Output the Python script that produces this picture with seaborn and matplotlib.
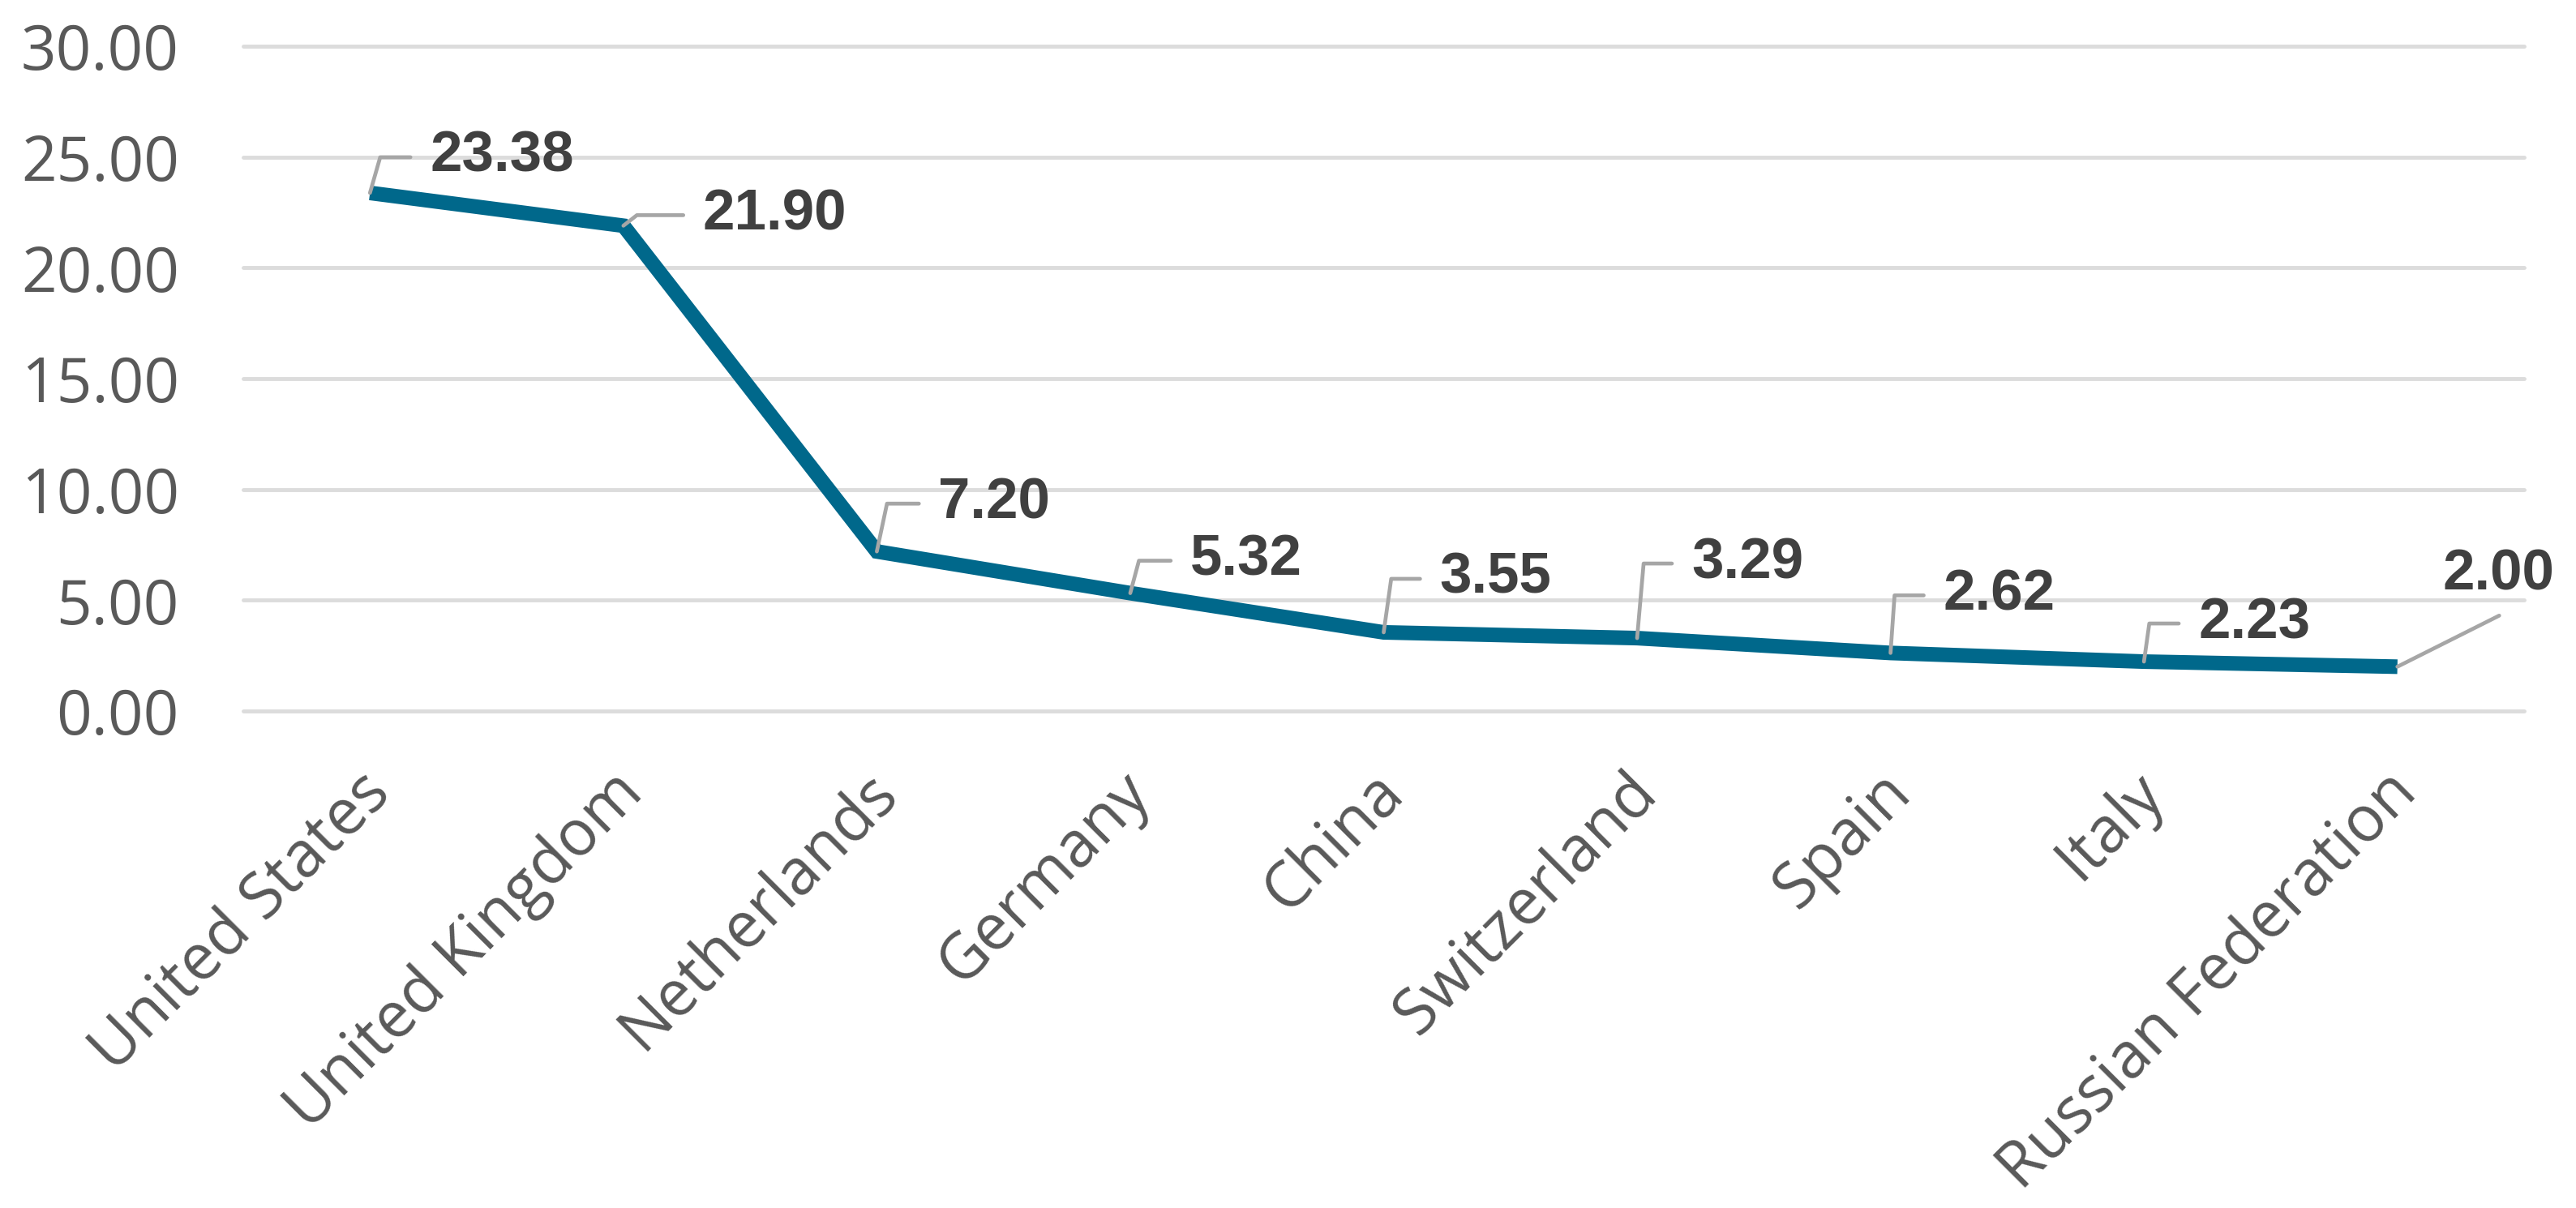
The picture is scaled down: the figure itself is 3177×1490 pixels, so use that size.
import matplotlib
matplotlib.use("Agg")
import matplotlib.pyplot as plt
import matplotlib.transforms as mtransforms
import seaborn as sns
import pandas as pd

countries = ["United States", "United Kingdom", "Netherlands", "Germany", "China",
             "Switzerland", "Spain", "Italy", "Russian Federation"]
values = [23.38, 21.90, 7.20, 5.32, 3.55, 3.29, 2.62, 2.23, 2.00]
y_ticks = [0, 5, 10, 15, 20, 25, 30]

# where each value label sits, in pixels from its point, and the leader angle
label_dx = [74, 98, 76, 74, 69, 67, 65, 67, 56]
label_dy = [44, 13, 59, 40, 66, 92, 71, 47, 113]
leader_angle = [74, 38, 78, 75, 82, 85, 86, 82, None]

LINE_COLOR = "#00688B"
TICK_COLOR = "#595959"
LABEL_COLOR = "#404040"
LEADER_COLOR = "#a6a6a6"

sns.set_theme(style="white")
plt.rcParams["font.family"] = ["Open Sans", "DejaVu Sans"]

df = pd.DataFrame({"country": countries, "value": values})

fig = plt.figure(figsize=(31.77, 14.90), dpi=100)
ax = fig.add_axes([300 / 3177, 1 - 877 / 1490, (3113 - 300) / 3177, (877 - 57) / 1490])

sns.lineplot(data=df, x="country", y="value", sort=False, color=LINE_COLOR, ax=ax)
for ln in ax.get_lines():
    ln.set_linewidth(13)
    ln.set_solid_capstyle("butt")
    ln.set_solid_joinstyle("miter")
    ln.set_clip_on(False)
    ln.set_zorder(3)

ax.set_xlim(-0.5, len(countries) - 0.5)
ax.set_ylim(0, 30)
ax.set_yticks(y_ticks)
ax.set_yticklabels([f"{t:.2f}" for t in y_ticks])
ax.set_xlabel("")
ax.set_ylabel("")

ax.yaxis.grid(True, color="#dcdcdc", linewidth=3.5)
ax.xaxis.grid(False)
ax.set_axisbelow(True)
for gl in ax.get_ygridlines():
    gl.set_clip_on(False)
for s in ax.spines.values():
    s.set_visible(False)

ax.tick_params(axis="y", length=0, pad=57, labelsize=55, labelcolor=TICK_COLOR)
ax.tick_params(axis="x", length=0, pad=64, labelsize=56, labelcolor=TICK_COLOR)

shift = mtransforms.ScaledTranslation(9 / 72, 0, fig.dpi_scale_trans)
for lab in ax.get_xticklabels():
    lab.set_rotation(45)
    lab.set_ha("right")
    lab.set_va("center")
    lab.set_rotation_mode("anchor")
    lab.set_transform(lab.get_transform() + shift)

for i, v in enumerate(values):
    if leader_angle[i] is not None:
        arrow = dict(arrowstyle="-", color=LEADER_COLOR, lw=3.4, shrinkA=15, shrinkB=0,
                     relpos=(0, 0.5),
                     connectionstyle=f"angle,angleA=0,angleB={leader_angle[i]},rad=0")
    else:
        arrow = dict(arrowstyle="-", color=LEADER_COLOR, lw=3.4, shrinkA=22, shrinkB=0,
                     relpos=(0.75, 0), connectionstyle="arc3,rad=0")
    ax.annotate(f"{v:.2f}", xy=(i, v), xytext=(label_dx[i], label_dy[i]),
                textcoords="offset pixels", ha="left", va="center",
                fontsize=51, fontweight="bold", color=LABEL_COLOR,
                family=["Liberation Sans", "DejaVu Sans"],
                arrowprops=arrow, annotation_clip=False, zorder=4)

fig.savefig("out.png", dpi=100, facecolor="white")
